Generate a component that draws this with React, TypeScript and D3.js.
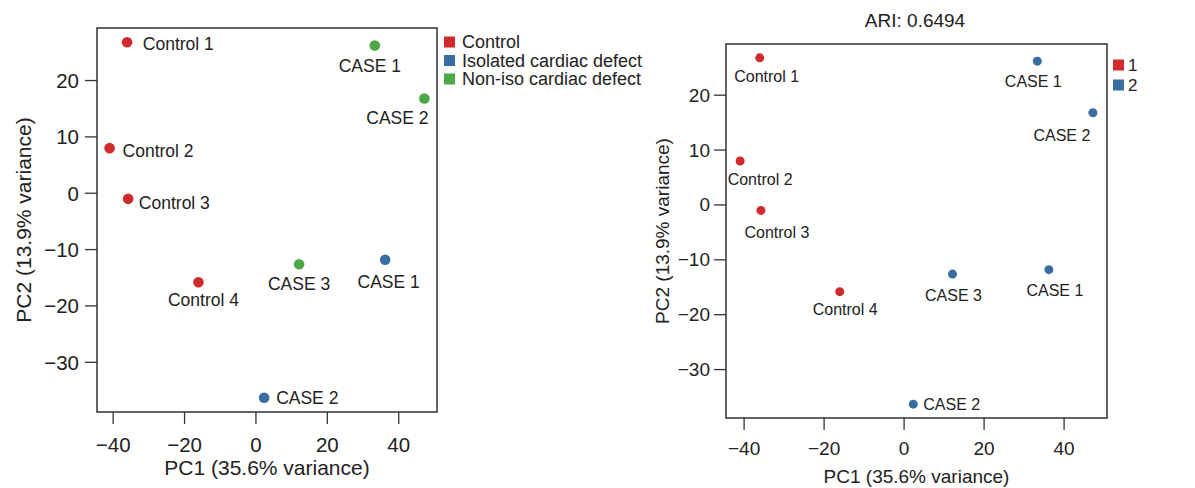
import React from "react";
import * as d3 from "d3";

// ---------- data ----------
const samples = ["Control 1", "Control 2", "Control 3", "Control 4", "CASE 1", "CASE 2", "CASE 3", "CASE 1", "CASE 2"];
const pc1 = [-36.1, -41.0, -35.8, -16.1, 33.3, 47.2, 12.1, 36.2, 2.3];
const pc2 = [26.8, 8.0, -1.0, -15.8, 26.2, 16.8, -12.6, -11.8, -36.3];
const groups = [
  "Control", "Control", "Control", "Control",
  "Non-iso cardiac defect", "Non-iso cardiac defect", "Non-iso cardiac defect",
  "Isolated cardiac defect", "Isolated cardiac defect",
];
const clusters = ["1", "1", "1", "1", "2", "2", "2", "2", "2"];
const groupLevels = ["Control", "Isolated cardiac defect", "Non-iso cardiac defect"];
const clusterLevels = ["1", "2"];
const xTicks = [-40, -20, 0, 20, 40];
const yTicks = [-30, -20, -10, 0, 10, 20];
const xTitle = "PC1 (35.6% variance)";
const yTitle = "PC2 (13.9% variance)";
const ariTitle = "ARI: 0.6494";

// ---------- style ----------
const RED = "#D12A2C";
const BLUE = "#3A6EA3";
const GREEN = "#4DA84A";
const FONT = "'Liberation Sans', Arial, Helvetica, sans-serif";

type Off = [string, number, number]; // anchor, dx, dy
const leftLabelOffsets: Off[] = [
  ["start", 15.7, 1.4], ["start", 13, 3], ["start", 10.7, 3.7], ["middle", 5, 17.7],
  ["middle", -5, 20.7], ["middle", -27, 19.6], ["middle", 0, 20],
  ["middle", 3.5, 22], ["start", 12, 0.7],
];
const rightLabelOffsets: Off[] = [
  ["middle", 7, 19], ["middle", 20, 18], ["middle", 16, 22], ["middle", 5.5, 18],
  ["middle", -4, 20], ["middle", -31, 23], ["middle", 1, 21],
  ["middle", 6, 21], ["start", 10, 0],
];

function extendDomain(v: number[]): [number, number] {
  const [a, b] = d3.extent(v) as [number, number];
  const p = (b - a) * 0.04;
  return [a - p, b + p];
}

interface PanelProps {
  box: { x0: number; x1: number; y0: number; y1: number };
  colorOf: (i: number) => string;
  offsets: Off[];
  labelSize: number;
  tickSize: number;
  titleSize: number;
  r: number;
  tickLabelGapY: number;
  xLabelDy: number;
  xTitleDy: number;
  yTitleDx: number;
  legend: { items: string[]; colors: string[]; x: number; y0: number; step: number; size: number; font: number; textDx: number };
}

function Panel(p: PanelProps) {
  const { box } = p;
  const x = d3.scaleLinear().domain(extendDomain(pc1)).range([box.x0, box.x1]);
  const y = d3.scaleLinear().domain(extendDomain(pc2)).range([box.y1, box.y0]);
  const tickLen = 12;
  const axisCol = "#333";
  return (
    <g fontFamily={FONT} fill="#222">
      <rect x={box.x0} y={box.y0} width={box.x1 - box.x0} height={box.y1 - box.y0} fill="none" stroke={axisCol} strokeWidth={1.5} />
      {yTicks.map((t) => (
        <g key={"y" + t}>
          <line x1={box.x0 - tickLen} x2={box.x0} y1={y(t)} y2={y(t)} stroke={axisCol} strokeWidth={1.3} />
          <text x={box.x0 - tickLen - p.tickLabelGapY} y={y(t)} textAnchor="end" dominantBaseline="central" fontSize={p.tickSize}>
            {t < 0 ? "\u2212" + Math.abs(t) : t}
          </text>
        </g>
      ))}
      {xTicks.map((t) => (
        <g key={"x" + t}>
          <line x1={x(t)} x2={x(t)} y1={box.y1} y2={box.y1 + tickLen} stroke={axisCol} strokeWidth={1.3} />
          <text x={x(t)} y={box.y1 + p.xLabelDy} textAnchor="middle" dominantBaseline="central" fontSize={p.tickSize}>
            {t < 0 ? "\u2212" + Math.abs(t) : t}
          </text>
        </g>
      ))}
      <text x={(box.x0 + box.x1) / 2} y={box.y1 + p.xTitleDy} textAnchor="middle" dominantBaseline="central" fontSize={p.titleSize}>
        {xTitle}
      </text>
      <text
        transform={`translate(${box.x0 - p.yTitleDx},${(box.y0 + box.y1) / 2}) rotate(-90)`}
        textAnchor="middle"
        dominantBaseline="central"
        fontSize={p.titleSize}
      >
        {yTitle}
      </text>
      {samples.map((s, i) => (
        <circle key={"c" + i} cx={x(pc1[i])} cy={y(pc2[i])} r={p.r} fill={p.colorOf(i)} />
      ))}
      {samples.map((s, i) => {
        const [anchor, dx, dy] = p.offsets[i];
        return (
          <text key={"l" + i} x={x(pc1[i]) + dx} y={y(pc2[i]) + dy} textAnchor={anchor as any} dominantBaseline="central" fontSize={p.labelSize}>
            {s}
          </text>
        );
      })}
      {p.legend.items.map((it, i) => {
        const cy = p.legend.y0 + i * p.legend.step;
        return (
          <g key={"lg" + i}>
            <rect x={p.legend.x} y={cy - p.legend.size / 2} width={p.legend.size} height={p.legend.size} fill={p.legend.colors[i]} />
            <text x={p.legend.x + p.legend.textDx} y={cy} dominantBaseline="central" fontSize={p.legend.font}>
              {it}
            </text>
          </g>
        );
      })}
    </g>
  );
}

export default function App() {
  const groupColor = d3.scaleOrdinal<string, string>().domain(groupLevels).range([RED, BLUE, GREEN]);
  const clusterColor = d3.scaleOrdinal<string, string>().domain(clusterLevels).range([RED, BLUE]);
  return (
    <svg width={1195} height={488} style={{ position: "absolute", left: 0, top: 0, background: "#fff" }}>
      <rect width={1195} height={488} fill="#fff" />
      <Panel
        box={{ x0: 97, x1: 437, y0: 28, y1: 412 }}
        colorOf={(i) => groupColor(groups[i])}
        offsets={leftLabelOffsets}
        labelSize={17.5}
        tickSize={20.5}
        titleSize={21}
        r={5.3}
        tickLabelGapY={6}
        xLabelDy={32}
        xTitleDy={55}
        yTitleDx={74}
        legend={{ items: groupLevels, colors: groupLevels.map((g) => groupColor(g)), x: 444, y0: 42, step: 18.5, size: 11, font: 18, textDx: 18 }}
      />
      <Panel
        box={{ x0: 726, x1: 1107, y0: 44, y1: 418 }}
        colorOf={(i) => clusterColor(clusters[i])}
        offsets={rightLabelOffsets}
        labelSize={16}
        tickSize={19}
        titleSize={19}
        r={4.5}
        tickLabelGapY={4}
        xLabelDy={30}
        xTitleDy={58.5}
        yTitleDx={64}
        legend={{ items: clusterLevels, colors: clusterLevels.map((c) => clusterColor(c)), x: 1113, y0: 65, step: 20, size: 11, font: 17, textDx: 15 }}
      />
      <text x={915} y={20} textAnchor="middle" dominantBaseline="central" fontSize={19} fontFamily={FONT} fill="#222">
        {ariTitle}
      </text>
    </svg>
  );
}
